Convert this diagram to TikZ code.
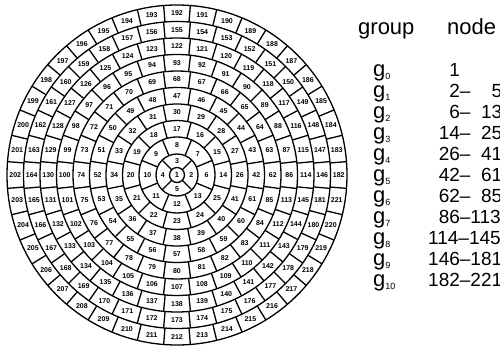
\documentclass[tikz,border=0pt]{standalone}
\usepackage{fontspec}
\setmainfont{Liberation Sans}
\begin{document}
\begin{tikzpicture}[x=1pt,y=1pt,
  cellline/.style={line width=1.3pt},
  cellnum/.style={font=\bfseries\fontsize{7}{7}\selectfont, inner sep=0pt},
  hdr/.style={font=\fontsize{22}{22}\selectfont, inner sep=0pt, anchor=base west},
  grp/.style={font=\fontsize{22}{22}\selectfont, inner sep=0pt, anchor=base west},
  rng/.style={font=\fontsize{19}{19}\selectfont, inner sep=0pt, anchor=base west}]
\useasboundingbox (-177,-178) rectangle (323,175);
\fill[white] (-177,-178) rectangle (323,175);
% rings
\foreach \r in {7.5,21,38,54.5,71,87.5,104,120.5,137,153.5,170}
  \draw[cellline] (0,0) circle (\r);
% radial boundaries and labels
\foreach \k/\rin/\rout in {1/7.5/21,2/21/38,3/38/54.5,4/54.5/71,5/71/87.5,6/87.5/104,7/104/120.5,8/120.5/137,9/137/153.5,10/153.5/170}{
  \pgfmathtruncatemacro\n{4*\k}
  \pgfmathtruncatemacro\nm{\n-1}
  \pgfmathsetmacro\rmid{(\rin+\rout)/2}
  \foreach \j in {0,...,\nm}{
    \pgfmathsetmacro\ab{(\j+0.5)*360/\n}
    \pgfmathsetmacro\ac{\j*360/\n}
    \pgfmathtruncatemacro\num{2+2*\k*(\k-1)+\j}
    \draw[cellline] (\ab:\rin) -- (\ab:\rout);
    \node[cellnum] (c\num) at (\ac:\rmid) {\num};
  }
}
\node[cellnum, font=\bfseries\fontsize{7.5}{7.5}\selectfont] (c1) at (0,0) {1};
% listing
\node[hdr] (hgroup) at (181,140) {group};
\node[hdr] (hnode) at (270,140) {node};
\foreach \k/\txt in {0/{\phantom{00}1},1/{\phantom{00}2–\phantom{00}5},2/{\phantom{00}6–\phantom{0}13},3/{\phantom{0}14–\phantom{0}25},4/{\phantom{0}26–\phantom{0}41},5/{\phantom{0}42–\phantom{0}61},6/{\phantom{0}62–\phantom{0}85},7/{\phantom{0}86–113},8/{114–145},9/{146–181},10/{182–221}}{
  \pgfmathsetmacro\yb{175-(70+21*\k)-6.8}
  \node[grp] (g\k) at (196,\yb) {g{\fontsize{9}{9}\selectfont\raisebox{-3pt}{\k}}};
  \node[rng] (n\k) at (251,\yb) {\txt};
}
\end{tikzpicture}
\end{document}
